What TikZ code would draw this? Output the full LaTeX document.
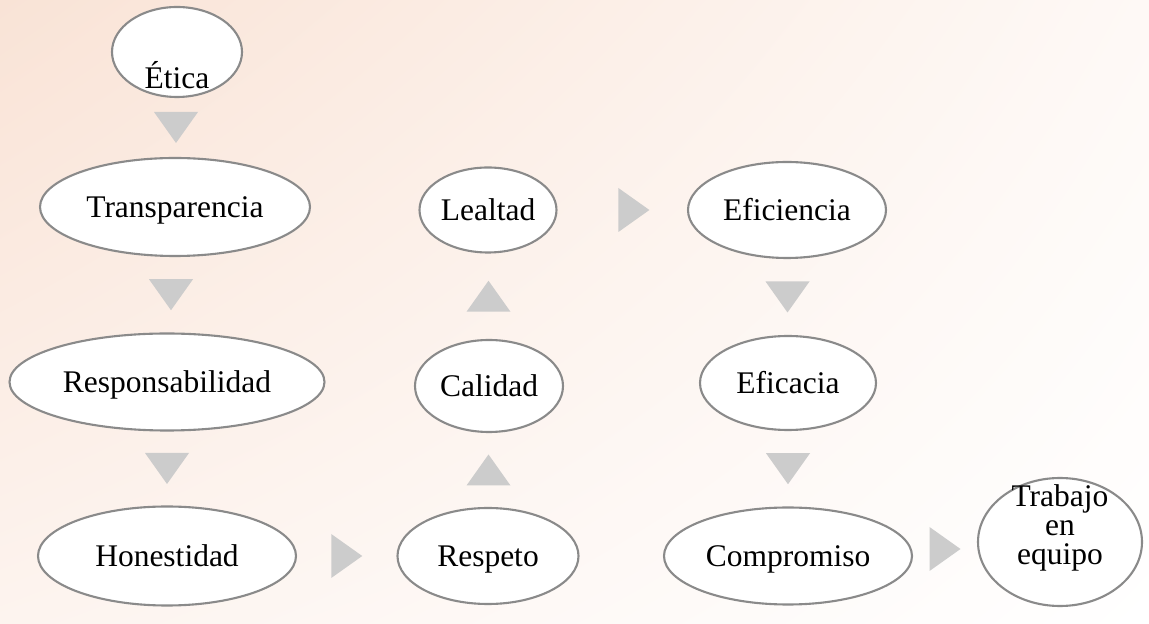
\documentclass[tikz,border=0pt]{standalone}
\usepackage{fontspec}
\setmainfont{Liberation Serif}
\usetikzlibrary{shapes.geometric,calc,shadings}
\definecolor{bubline}{HTML}{8A8A8A}
\definecolor{trigray}{HTML}{CCCCCC}
\definecolor{bgUL}{HTML}{F9E3D6}
\definecolor{bgUR}{HTML}{FEF9F6}
\definecolor{bgLL}{HTML}{FDF4EF}
\definecolor{bgLR}{HTML}{FFFFFF}
\begin{document}
\begin{tikzpicture}[x=1pt,y=1pt,
  bub/.style={ellipse, draw=bubline, line width=2.1pt, fill=white, inner sep=0pt,
    font=\fontsize{31.5}{32}\selectfont, text height=22pt, text depth=0pt},
  tri/.pic={\fill[trigray] (-15.5,-22) -- (15.5,0) -- (-15.5,22) -- cycle;}]
\shade[upper left=bgUL, upper right=bgUR, lower left=bgLL, lower right=bgLR] (0,0) rectangle (1149,624);
\useasboundingbox (0,0) rectangle (1149,624);

\node[bub, minimum width=130pt, minimum height=90pt] (etica) at (177,572) {\raisebox{-26pt}{Ética}};
\node[bub, minimum width=270pt, minimum height=98pt] (transp) at (175,417) {Transparencia};
\node[bub, minimum width=315pt, minimum height=97pt] (resp) at (167,242) {Responsabilidad};
\node[bub, minimum width=258pt, minimum height=99pt] (hon) at (167,68) {Honestidad};
\node[bub, minimum width=181pt, minimum height=96pt] (respeto) at (488,68) {Respeto};
\node[bub, minimum width=148pt, minimum height=92pt] (calidad) at (489,238) {Calidad};
\node[bub, minimum width=137pt, minimum height=85pt] (lealtad) at (488,414) {Lealtad};
\node[bub, minimum width=198pt, minimum height=96pt] (efic) at (787,414) {Eficiencia};
\node[bub, minimum width=176pt, minimum height=94pt] (eficacia) at (788,241) {Eficacia};
\node[bub, minimum width=248pt, minimum height=97pt] (comp) at (788,68) {Compromiso};
\node[bub, minimum width=164pt, minimum height=128pt, text height=0pt, text depth=0pt,
  font=\fontsize{31.5}{29}\selectfont] (trab) at (1060,82) {\raisebox{8pt}[0pt][0pt]{\parbox{110pt}{\centering Trabajo\\en\\equipo}}};

\pic[rotate=-90] at ($(etica.south)!0.5!(transp.north)$) {tri};
\pic[rotate=-90] at ($(transp.south)!0.5!(resp.north)$) {tri};
\pic[rotate=-90] at ($(resp.south)!0.5!(hon.north)$) {tri};
\pic at ($(hon.east)!0.5!(respeto.west)$) {tri};
\pic[rotate=90] at ($(respeto.north)!0.5!(calidad.south)$) {tri};
\pic[rotate=90] at ($(calidad.north)!0.5!(lealtad.south)$) {tri};
\pic at ($(lealtad.east)!0.59!(efic.west)$) {tri};
\pic[rotate=-90] at ($(efic.south)!0.5!(eficacia.north)$) {tri};
\pic[rotate=-90] at ($(eficacia.south)!0.5!(comp.north)$) {tri};
\pic at ($(comp.east)!0.5!(trab.west)$) {tri};
\end{tikzpicture}
\end{document}
